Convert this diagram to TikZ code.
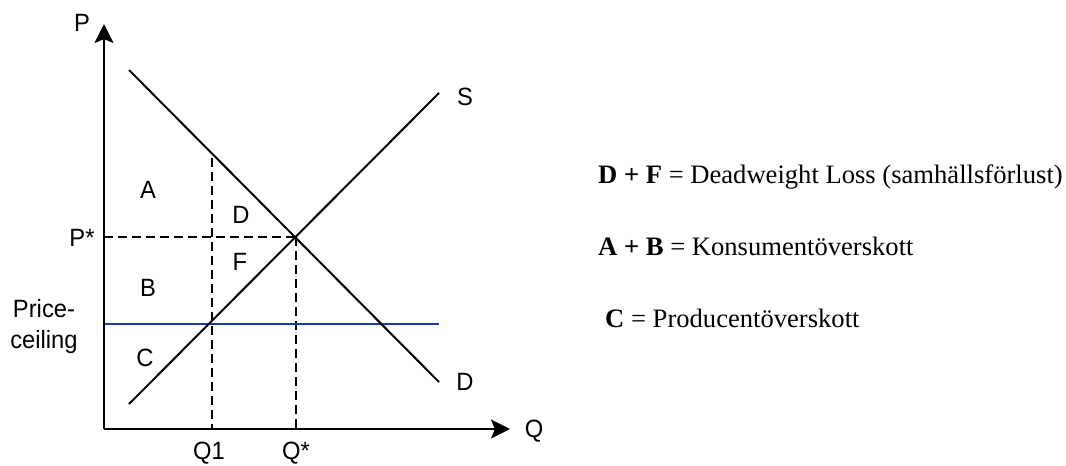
\documentclass[tikz,border=0pt]{standalone}
\usepackage{fontspec}
\setmainfont{Liberation Serif}
\newfontfamily\lsans[FakeStretch=0.95]{Liberation Sans}
\usetikzlibrary{arrows.meta}
\definecolor{ceilblue}{RGB}{30,60,170}
\tikzset{
  axis/.style={line width=2.7pt,-{Stealth[length=19pt,width=19pt,inset=4pt]}},
  curve/.style={line width=2pt},
  guide/.style={line width=2pt,dash pattern=on 9pt off 5pt},
  lbl/.style={font=\lsans\fontsize{25}{28}\selectfont,inner sep=0pt},
  note/.style={font=\fontsize{26.6}{30}\selectfont,inner sep=0pt,anchor=base west}
}
\begin{document}
\begin{tikzpicture}[x=1pt,y=-1pt]
\useasboundingbox (0,0) rectangle (1066,466);
% coordinates
\coordinate (O) at (104,429);
\coordinate (Ptop) at (104,24);
\coordinate (Qend) at (510,429);
\coordinate (Ds) at (129,70);
\coordinate (De) at (439,382);
\coordinate (Ss) at (129,404);
\coordinate (Se) at (439,93);
\coordinate (E) at (296,237);
\coordinate (Pst) at (104,237);
\coordinate (Qst) at (296,429);
\coordinate (Q1top) at (212,158);
\coordinate (Q1bot) at (212,429);
\coordinate (Cl) at (104,324);
\coordinate (Cr) at (439,324);
% guides
\draw[guide] (Pst) -- (E);
\draw[guide] (E) -- (Qst);
\draw[guide] (Q1top) -- (Q1bot);
% price ceiling
\draw[ceilblue,line width=2pt] (Cl) -- (Cr);
% curves
\draw[curve] (Ds) -- (De);
\draw[curve] (Ss) -- (Se);
% axes
\draw[axis] (O) -- (Ptop);
\draw[axis] (O) -- (Qend);
% labels
\node[lbl] (lP) at (82,23) {P};
\node[lbl] (lQ) at (534,431) {Q};
\node[lbl] (lS) at (465,97) {S};
\node[lbl] (lD) at (465,382) {D};
\node[lbl] (lPst) at (82,238) {P*};
\node[lbl] (lQ1) at (209,453) {Q1};
\node[lbl] (lQst) at (296,453) {Q*};
\node[lbl,anchor=base] (lPc1) at (44,317) {Price-};
\node[lbl,anchor=base] (lPc2) at (44,348) {ceiling};
\node[lbl] (rA) at (148,190) {A};
\node[lbl] (rD) at (241,215) {D};
\node[lbl] (rF) at (240,262) {F};
\node[lbl] (rB) at (148,288) {B};
\node[lbl] (rC) at (145,358) {C};
% notes
\node[note] (n1) at (598,183) {\textbf{D + F} = Deadweight Loss (samhällsförlust)};
\node[note] (n2) at (598,255) {\textbf{A + B} = Konsumentöverskott};
\node[note] (n3) at (605,327) {\textbf{C} = Producentöverskott};
\end{tikzpicture}
\end{document}
